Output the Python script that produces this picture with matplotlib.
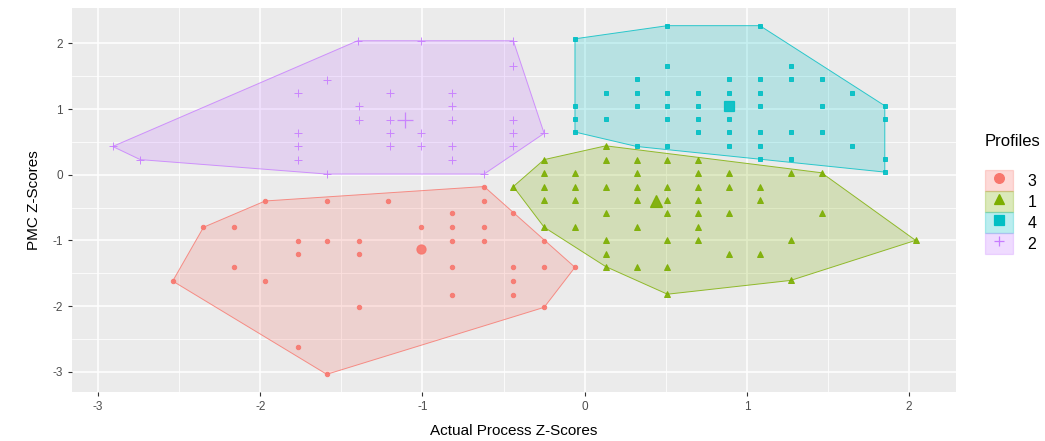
import matplotlib
matplotlib.use("Agg")
import matplotlib.pyplot as plt
from matplotlib.patches import Patch, Polygon
from matplotlib.lines import Line2D
import numpy as np

# --- data (z-scores) ---
profile_labels = ["3", "1", "4", "2"]
profile_colors = ["#F8766D", "#7CAE00", "#00BFC4", "#C77CFF"]
profile_markers = ["o", "^", "s", "+"]

p3_x = [-0.62, -1.97, -1.59, -1.21, -0.62, -0.82, -0.44, -2.35, -2.16, -1.01, -0.82, -0.62,
        -1.77, -1.59, -1.39, -0.82, -0.62, -0.25, -1.77, -1.39, -2.16, -0.82, -0.44, -0.25,
        -0.06, -2.54, -1.97, -0.44, -0.82, -0.44, -1.39, -0.25, -1.77, -1.59]
p3_y = [-0.18, -0.40, -0.40, -0.40, -0.40, -0.59, -0.59, -0.80, -0.80, -0.80, -0.80, -0.80,
        -1.01, -1.01, -1.01, -1.01, -1.01, -1.01, -1.21, -1.21, -1.41, -1.41, -1.41, -1.41,
        -1.41, -1.62, -1.62, -1.62, -1.83, -1.83, -2.02, -2.02, -2.63, -3.04]

p1_x = [0.13, -0.25, 0.13, 0.32, 0.51, 0.70, -0.25, -0.06, 0.32, 0.70, 0.89, 1.27, 1.46,
        -0.44, -0.25, -0.06, 0.13, 0.32, 0.51, 0.70, 0.89, 1.08, -0.25, -0.06, 0.32, 0.51,
        0.70, 1.08, 0.13, 0.51, 0.70, 0.89, 1.46, -0.25, -0.06, 0.32, 0.70, 0.13, 0.51,
        0.70, 1.27, 2.04, 0.13, 0.89, 1.08, 0.13, 0.32, 0.51, 1.27, 0.51]
p1_y = [0.44, 0.23, 0.23, 0.23, 0.23, 0.23, 0.03, 0.03, 0.03, 0.03, 0.03, 0.03, 0.03,
        -0.18, -0.18, -0.18, -0.18, -0.18, -0.18, -0.18, -0.18, -0.18, -0.38, -0.38, -0.38, -0.38,
        -0.38, -0.38, -0.58, -0.58, -0.58, -0.58, -0.58, -0.80, -0.80, -0.80, -0.80, -1.00, -1.00,
        -1.00, -1.00, -1.00, -1.21, -1.21, -1.21, -1.40, -1.40, -1.40, -1.61, -1.82]

p4_x = [-0.06, -0.06, -0.06, -0.06, 0.13, 0.13, 0.32, 0.32, 0.32, 0.32, 0.51, 0.51, 0.51,
        0.51, 0.51, 0.51, 0.70, 0.70, 0.70, 0.70, 0.89, 0.89, 0.89, 0.89, 0.89, 1.08,
        1.08, 1.08, 1.08, 1.08, 1.08, 1.08, 1.27, 1.27, 1.27, 1.27, 1.46, 1.46, 1.46,
        1.65, 1.65, 1.85, 1.85, 1.85, 1.85]
p4_y = [2.07, 1.05, 0.85, 0.65, 1.25, 0.85, 1.46, 1.25, 1.05, 0.43, 2.27, 1.66, 1.25,
        1.05, 0.85, 0.43, 1.25, 1.05, 0.85, 0.65, 1.46, 1.25, 0.85, 0.65, 0.43, 2.27,
        1.46, 1.25, 1.05, 0.65, 0.43, 0.24, 1.66, 1.46, 0.65, 0.24, 1.46, 1.05, 0.65,
        1.25, 0.43, 1.05, 0.85, 0.24, 0.04]

p2_x = [-2.91, -2.74, -1.77, -1.77, -1.77, -1.77, -1.59, -1.59, -1.40, -1.39, -1.39, -1.20,
        -1.20, -1.20, -1.20, -1.01, -1.01, -1.01, -0.82, -0.82, -0.82, -0.82, -0.82, -0.44,
        -0.44, -0.44, -0.44, -0.44, -0.62, -0.25]
p2_y = [0.43, 0.23, 1.24, 0.63, 0.43, 0.23, 1.45, 0.01, 2.04, 1.04, 0.83, 1.24,
        0.83, 0.63, 0.43, 2.04, 0.63, 0.43, 1.24, 1.04, 0.83, 0.43, 0.23, 2.04,
        1.65, 0.83, 0.63, 0.43, 0.01, 0.63]

# cluster centres (drawn bigger)
centre_x = [-1.01, 0.44, 0.89, -1.11]
centre_y = [-1.13, -0.40, 1.05, 0.83]

xs = [p3_x, p1_x, p4_x, p2_x]
ys = [p3_y, p1_y, p4_y, p2_y]


def convex_hull(px, py):
    pts = sorted(set(zip(px, py)))
    def cross(o, a, b):
        return (a[0] - o[0]) * (b[1] - o[1]) - (a[1] - o[1]) * (b[0] - o[0])
    lower, upper = [], []
    for p in pts:
        while len(lower) >= 2 and cross(lower[-2], lower[-1], p) <= 0:
            lower.pop()
        lower.append(p)
    for p in reversed(pts):
        while len(upper) >= 2 and cross(upper[-2], upper[-1], p) <= 0:
            upper.pop()
        upper.append(p)
    return lower[:-1] + upper[:-1]


plt.rcParams['font.family'] = ['Liberation Sans', 'DejaVu Sans']
plt.rcParams['axes.unicode_minus'] = False

fig = plt.figure(figsize=(10.45, 4.41), dpi=100)
ax = fig.add_axes([0.069, 0.111, 0.846, 0.871])
ax.set_facecolor("#EBEBEB")

marker_sizes = [3.2, 3.8, 3.3, 5.5]
centre_sizes = [6.5, 8.5, 6.5, 11]
FILL_ALPHA = 0.22

for i in range(4):
    hull = convex_hull(xs[i], ys[i])
    ax.add_patch(Polygon(hull, closed=True, facecolor=profile_colors[i], alpha=FILL_ALPHA,
                         edgecolor="none", zorder=2))
    ax.add_patch(Polygon(hull, closed=True, facecolor="none", edgecolor=profile_colors[i],
                         lw=0.7, alpha=0.8, zorder=3))
    ax.plot(xs[i], ys[i], linestyle="none", marker=profile_markers[i], ms=marker_sizes[i],
            color=profile_colors[i], mew=0.7, alpha=0.9, zorder=4)
    ax.plot(centre_x[i], centre_y[i], linestyle="none", marker=profile_markers[i],
            ms=centre_sizes[i], color=profile_colors[i], mew=0.9, alpha=0.9, zorder=5)

ax.set_xlim(-3.16, 2.29)
ax.set_ylim(-3.31, 2.54)
ax.set_xticks([-3, -2, -1, 0, 1, 2])
ax.set_yticks([-3, -2, -1, 0, 1, 2])
ax.set_xticks(np.arange(-2.5, 2.5, 1.0), minor=True)
ax.set_yticks(np.arange(-2.5, 2.5, 1.0), minor=True)
ax.grid(which="major", color="white", lw=1.1, zorder=0)
ax.grid(which="minor", color="white", lw=0.55, zorder=0)
ax.set_axisbelow(True)
for s in ax.spines.values():
    s.set_visible(False)
ax.tick_params(which="major", length=3, color="#333333", labelsize=8.5, labelcolor="#4D4D4D")
ax.tick_params(which="minor", length=0)
ax.set_xlabel("Actual Process Z-Scores", fontsize=11, labelpad=8)
ax.set_ylabel("PMC Z-Scores", fontsize=11, labelpad=8)

handles = []
for i in range(4):
    box = Patch(facecolor=profile_colors[i], alpha=FILL_ALPHA + 0.05,
                edgecolor=profile_colors[i], lw=0.9)
    mk = Line2D([], [], linestyle="none", marker=profile_markers[i], ms=7,
                color=profile_colors[i], mew=0.9)
    handles.append((box, mk))
leg = fig.legend(handles, profile_labels, title="Profiles", loc="upper left",
                 bbox_to_anchor=(985 / 1045, 1 - 134 / 441), frameon=False, fontsize=11.5,
                 title_fontsize=12, handlelength=1.75, handleheight=1.65,
                 labelspacing=0.0, handletextpad=0.9, borderpad=0, borderaxespad=0)
leg._legend_box.align = "left"
leg._legend_box.sep = 15

fig.savefig("out.png", dpi=100)
